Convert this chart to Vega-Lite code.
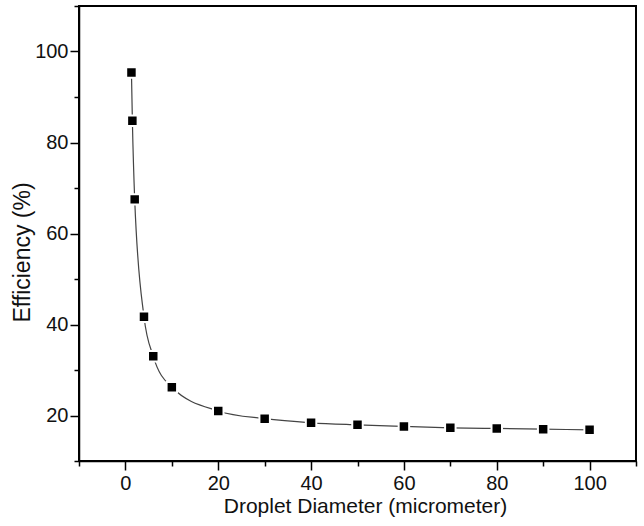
{
  "$schema": "https://vega.github.io/schema/vega-lite/v6.json",
  "width": 557,
  "height": 455,
  "autosize": {"type": "none"},
  "padding": {"left": 79, "top": 6, "right": 8, "bottom": 65},
  "background": "white",
  "config": {
    "font": "Liberation Sans",
    "view": {"stroke": "black", "strokeWidth": 2},
    "axis": {
      "domainColor": "black",
      "domainWidth": 1.5,
      "tickColor": "black",
      "tickWidth": 1.5,
      "grid": false,
      "labelFont": "Liberation Sans",
      "titleFont": "Liberation Sans",
      "labelFontSize": 20,
      "titleFontSize": 21,
      "titleFontWeight": "normal",
      "labelColor": "#111",
      "titleColor": "#111"
    }
  },
  "data": {
    "values": [
      {"d": 1.3, "e": 95.4},
      {"d": 1.5, "e": 84.8},
      {"d": 2, "e": 67.5},
      {"d": 4, "e": 41.7},
      {"d": 6, "e": 33.0},
      {"d": 10, "e": 26.2},
      {"d": 20, "e": 21.0},
      {"d": 30, "e": 19.3},
      {"d": 40, "e": 18.4},
      {"d": 50, "e": 17.95},
      {"d": 60, "e": 17.6},
      {"d": 70, "e": 17.3},
      {"d": 80, "e": 17.15},
      {"d": 90, "e": 17.0},
      {"d": 100, "e": 16.85}
    ]
  },
  "layer": [
    {
      "mark": {"type": "line", "color": "#444", "strokeWidth": 1.2, "interpolate": "monotone"},
      "encoding": {
        "x": {
          "field": "d", "type": "quantitative",
          "scale": {"domain": [-10, 110], "nice": false, "zero": false},
          "axis": {"orient": "bottom", "values": [0, 20, 40, 60, 80, 100], "tickSize": 9, "labelPadding": 3, "title": "Droplet Diameter (micrometer)", "titlePadding": 2, "titleX": 286}
        },
        "y": {
          "field": "e", "type": "quantitative",
          "scale": {"domain": [10, 110], "nice": false, "zero": false},
          "axis": {"orient": "left", "values": [20, 40, 60, 80, 100], "tickSize": 9, "labelPadding": 2, "title": "Efficiency (%)", "titleFontSize": 23, "titlePadding": 0, "titleY": 246}
        }
      }
    },
    {
      "mark": {"type": "point", "shape": "square", "filled": true, "size": 110, "color": "black", "stroke": "white", "strokeWidth": 2, "opacity": 1},
      "encoding": {
        "x": {"field": "d", "type": "quantitative", "axis": null},
        "y": {"field": "e", "type": "quantitative", "axis": null}
      }
    },
    {
      "mark": {"type": "point", "opacity": 0},
      "encoding": {
        "x": {"field": "d", "type": "quantitative", "axis": {"orient": "bottom", "values": [-10, 10, 30, 50, 70, 90, 110], "tickSize": 5, "labels": false, "domain": false, "title": null}},
        "y": {"field": "e", "type": "quantitative", "axis": {"orient": "left", "values": [10, 30, 50, 70, 90, 110], "tickSize": 5, "labels": false, "domain": false, "title": null}}
      }
    }
  ],
  "resolve": {"axis": {"x": "independent", "y": "independent"}}
}
